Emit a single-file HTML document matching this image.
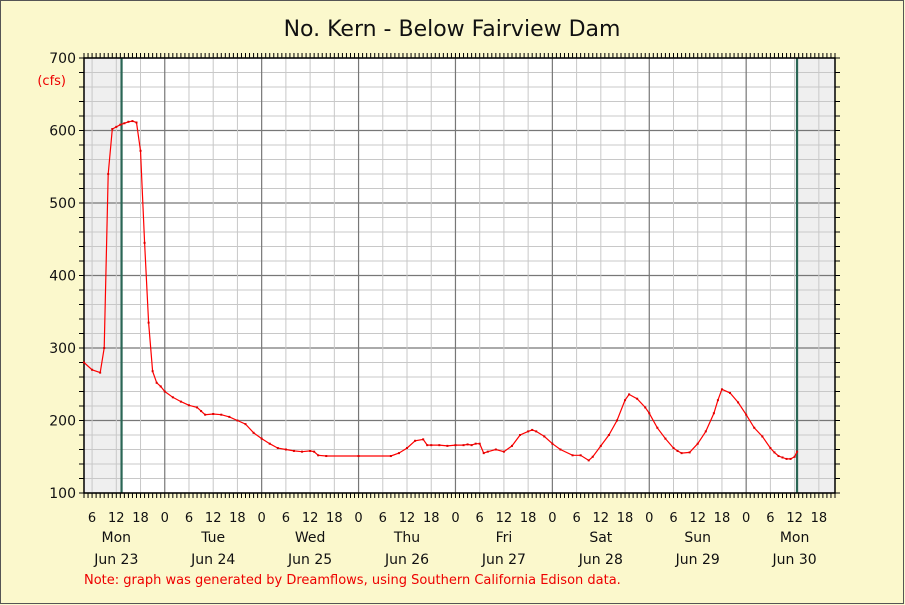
<!DOCTYPE html>
<html><head><meta charset="utf-8"><style>
body{margin:0;background:#fbf8cc;}
svg{display:block;font-family:"DejaVu Sans","Liberation Sans",sans-serif;}
</style></head><body>
<svg id="c" width="905" height="605" xmlns="http://www.w3.org/2000/svg">
<rect x="0.5" y="0.5" width="903" height="603" fill="#fbf8cc" stroke="#555"/>
<text x="452" y="36" font-size="22" text-anchor="middle" fill="#111">No. Kern - Below Fairview Dam</text>
<text x="66" y="85" font-size="13" text-anchor="end" fill="#e00">(cfs)</text>
<text x="794" y="75" font-size="13" text-anchor="end" fill="#e00">Past</text>
<text x="84" y="584" font-size="13" fill="#e00">Note: graph was generated by Dreamflows, using Southern California Edison data.</text>
<g id="g"></g>
</svg>
<script>
const hours=[4,6,8,9,10,11,12,13,14,15,16,17,18,19,20,21,22,23,24,26,28,30,32,33,34,36,38,40,42,44,46,48,50,52,54,56,58,60,61,62,64,72,80,82,84,86,88,89,90,92,94,96,98,99,100,101,102,103,104,106,108,110,112,114,115,116,118,120,122,125,127,129,130,132,134,136,138,139,141,143,144,146,148,150,151,152,154,156,158,160,161,162,164,166,168,170,172,174,175,176,177,178,179,180,180.6];
const flows=[280,270,266,300,540,602,605,608,610,612,613,611,572,445,335,268,252,247,240,232,226,221,218,213,208,209,208,205,200,195,183,175,168,162,160,158,157,158,157,152,151,151,151,155,162,172,174,166,166,166,165,166,166,167,166,168,168,155,157,160,157,165,180,185,187,185,178,168,160,152,152,145,150,165,180,200,228,236,230,218,210,190,175,162,158,155,156,168,185,210,228,243,238,225,208,190,178,162,156,151,149,147,147,150,157];
const yTicks=[100,200,300,400,500,600,700];
const dayNames=["Mon","Tue","Wed","Thu","Fri","Sat","Sun","Mon"];
const dayDates=["Jun 23","Jun 24","Jun 25","Jun 26","Jun 27","Jun 28","Jun 29","Jun 30"];
const hourLabels=["0","6","12","18"];
const pastStart=13.3, pastEnd=180.6;
const H0=4,H1=190,L=84,R=835,T=58,B=493,V0=100,V1=700;
const X=h=>L+(h-H0)*(R-L)/(H1-H0);
const Y=v=>B-(v-V0)*(B-T)/(V1-V0);
const g=document.getElementById('g');
const NS="http://www.w3.org/2000/svg";
function mk(t,a,p){const e=document.createElementNS(NS,t);for(const k in a)e.setAttribute(k,a[k]);(p||g).appendChild(e);return e;}
let e;
e=mk('rect',{x:L,y:T,width:R-L,height:B-T,fill:'#fff'});


e=mk('rect',{x:L,y:T,width:X(pastStart)-L,height:B-T,fill:'#efefef'});


e=mk('rect',{x:X(pastEnd),y:T,width:R-X(pastEnd),height:B-T,fill:'#efefef'});


for(let v=V0;v<=V1;v+=20){
 const maj=(v%100===0);
 e=mk('line',{x1:L,x2:R,y1:Y(v),y2:Y(v),stroke:maj?'#777':'#c8c8c8','stroke-width':maj?1.2:1});
 
 
 e=mk('line',{x1:L-5,x2:L,y1:Y(v),y2:Y(v),stroke:'#000'});
 
 
 e=mk('line',{x1:R,x2:R+5,y1:Y(v),y2:Y(v),stroke:'#000'});
 
 
}
yTicks.forEach(v=>{e=mk('text',{x:L-8,y:Y(v)+5,'font-size':14,'text-anchor':'end',fill:'#111'});e.textContent=v;
 
 });
for(let h=Math.ceil(H0);h<=H1;h++){
 const x=X(h);
 if(h%6===0){const maj=h%24===0;
  e=mk('line',{x1:x,x2:x,y1:T,y2:B,stroke:maj?'#777':'#c8c8c8','stroke-width':maj?1.2:1});
  
  
  if(h<H1){e=mk('text',{x:x,y:522,'font-size':13,'text-anchor':'middle',fill:'#111'});e.textContent=hourLabels[(h%24)/6];
  
  }
 }
 e=mk('line',{x1:x,x2:x,y1:B,y2:B+5,stroke:'#000'});
 
 
 e=mk('line',{x1:x,x2:x,y1:T-5,y2:T,stroke:'#000'});
 
 
}
dayNames.forEach((d,i)=>{const x=X(i*24+12);
 e=mk('text',{x:x,y:542,'font-size':14,'text-anchor':'middle',fill:'#111'});e.textContent=d;
 
 
 e=mk('text',{x:x,y:564,'font-size':14,'text-anchor':'middle',fill:'#111'});e.textContent=dayDates[i];
 
 });
[pastStart,pastEnd].forEach(h=>{e=mk('line',{x1:X(h),x2:X(h),y1:T,y2:B,stroke:'#2a6655','stroke-width':2.2});
 
 });
e=mk('rect',{x:L,y:T,width:R-L,height:B-T,fill:'none',stroke:'#000','stroke-width':1.5});


const n=Math.min(hours.length,flows.length);
let d='';for(let i=0;i<n;i++)d+=(i?'L':'M')+X(hours[i]).toFixed(1)+','+Y(flows[i]).toFixed(1);
e=mk('path',{d:d,fill:'none',stroke:'#f00','stroke-width':1.2});


for(let i=0;i<n;i++){e=mk('rect',{x:X(hours[i])-1,y:Y(flows[i])-1,width:2,height:2,fill:'#d00'});
 
 }
</script>
</body></html>
